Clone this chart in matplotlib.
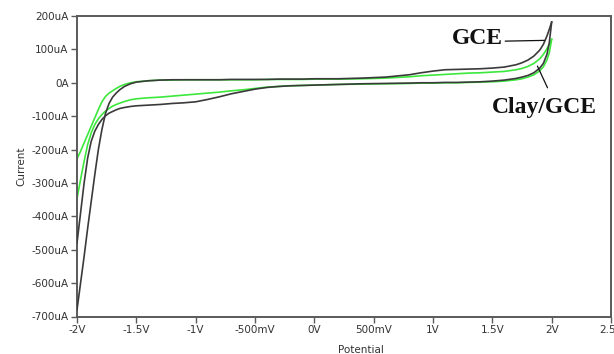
import matplotlib
matplotlib.use("Agg")
import matplotlib.pyplot as plt
from matplotlib.ticker import FixedLocator, FixedFormatter

# Cyclic voltammograms: potential (V) vs current (uA), forward and reverse branches
potential = [-2.0, -1.97, -1.94, -1.91, -1.88, -1.85, -1.82, -1.79, -1.76, -1.73,
             -1.70, -1.67, -1.64, -1.60, -1.55, -1.50, -1.40, -1.30, -1.20, -1.10,
             -1.00, -0.90, -0.80, -0.70, -0.60, -0.50, -0.40, -0.30, -0.20, -0.10,
             0.0, 0.2, 0.4, 0.6, 0.8, 0.9, 1.0, 1.1, 1.2, 1.3,
             1.4, 1.5, 1.6, 1.7, 1.75, 1.8, 1.85, 1.9, 1.93, 1.96,
             1.98, 2.0]

gce_anodic = [-680, -600, -520, -435, -355, -275, -200, -140, -92, -62,
              -43, -31, -21, -11, -3, 2, 6, 8, 9, 9,
              9, 9, 9, 10, 10, 10, 10, 11, 11, 11,
              12, 12, 14, 17, 24, 30, 35, 39, 40, 41,
              42, 44, 47, 54, 60, 68, 80, 98, 115, 140,
              160, 182]

gce_cathodic = [-480, -390, -300, -225, -175, -145, -125, -110, -99, -91,
                -86, -81, -77, -74, -71, -69, -67, -65, -62, -60,
                -57, -50, -42, -33, -26, -19, -14, -11, -9, -8,
                -7, -5, -3, -2, -1, 0, 0, 1, 1, 2,
                3, 5, 8, 13, 17, 22, 30, 44, 58, 85,
                120, 182]

clay_anodic = [-228, -205, -180, -155, -130, -105, -80, -57, -41, -31,
               -24, -17, -11, -5, 0, 3, 6, 8, 8, 9,
               9, 9, 9, 9, 9, 9, 10, 10, 10, 10,
               11, 11, 12, 14, 18, 21, 23, 25, 27, 29,
               30, 32, 34, 39, 43, 49, 58, 72, 85, 102,
               115, 130]

clay_cathodic = [-347, -290, -235, -185, -150, -125, -108, -95, -85, -77,
                 -70, -65, -61, -56, -51, -48, -45, -43, -40, -37,
                 -34, -31, -28, -24, -21, -17, -13, -11, -9, -8,
                 -7, -5, -4, -3, -2, -1, -1, 0, 0, 1,
                 2, 3, 5, 9, 12, 17, 24, 36, 48, 68,
                 90, 130]

x_ticks = [-2.0, -1.5, -1.0, -0.5, 0.0, 0.5, 1.0, 1.5, 2.0, 2.5]
x_tick_labels = ["-2V", "-1.5V", "-1V", "-500mV", "0V", "500mV", "1V", "1.5V", "2V", "2.5V"]
y_ticks = [200, 100, 0, -100, -200, -300, -400, -500, -600, -700]
y_tick_labels = ["200uA", "100uA", "0A", "-100uA", "-200uA", "-300uA",
                 "-400uA", "-500uA", "-600uA", "-700uA"]

BLACK = "#3a3a3a"
GREEN = "#3ce83c"
SPINE = "#5a5a5a"

fig = plt.figure(figsize=(6.14, 3.54), dpi=100)
ax = fig.add_axes([77 / 614, 1 - 316.5 / 354, (611 - 77) / 614, (316.5 - 16) / 354])

ax.plot(potential, gce_anodic, color=BLACK, lw=1.2, zorder=3)
ax.plot(potential, gce_cathodic, color=BLACK, lw=1.2, zorder=3)
ax.plot(potential, clay_anodic, color=GREEN, lw=1.2, zorder=2)
ax.plot(potential, clay_cathodic, color=GREEN, lw=1.2, zorder=2)

ax.set_xlim(-2.0, 2.5)
ax.set_ylim(-700, 200)

ax.xaxis.set_major_locator(FixedLocator(x_ticks))
ax.xaxis.set_major_formatter(FixedFormatter(x_tick_labels))
ax.yaxis.set_major_locator(FixedLocator(y_ticks))
ax.yaxis.set_major_formatter(FixedFormatter(y_tick_labels))

for s in ax.spines.values():
    s.set_color(SPINE)
    s.set_linewidth(1.4)

ax.tick_params(axis="both", direction="out", length=4, width=1.0, color=SPINE,
               labelsize=7.5, labelcolor="#333333", pad=2)

ax.set_ylabel("Current", fontsize=7.5, color="#333333", labelpad=4)
fig.text(361 / 614, 1 - 350 / 354, "Potential", fontsize=7.5, color="#333333",
         ha="center", va="center")

serif = dict(family="Liberation Serif", fontweight="bold", fontsize=17, color="#111111")
ax.annotate("GCE", xy=(1.94, 127), xytext=(1.585, 134), textcoords="data",
            ha="right", va="center",
            arrowprops=dict(arrowstyle="-", color="#111111", lw=0.9,
                            shrinkA=0, shrinkB=0, relpos=(1.0, 0.35)),
            **serif)
ax.annotate("", xy=(1.88, 50), xytext=(1.965, -15), textcoords="data",
            arrowprops=dict(arrowstyle="-", color="#111111", lw=0.9,
                            shrinkA=0, shrinkB=0))
ax.text(1.94, -75, "Clay/GCE", ha="center", va="center", **serif)

fig.savefig("out.png", dpi=100)
